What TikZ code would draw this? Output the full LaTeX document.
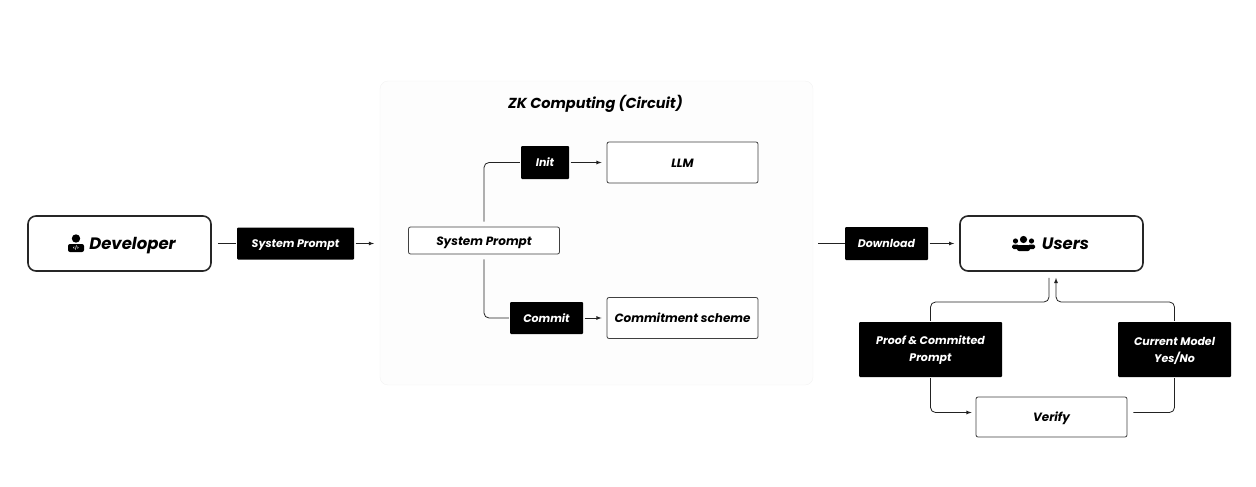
\documentclass[tikz,border=0pt]{standalone}
\usepackage{fontspec}
\setmainfont{Poppins}
\usetikzlibrary{calc}
\usetikzlibrary{arrows}
\definecolor{panelfill}{HTML}{FDFDFD}
\definecolor{panelline}{HTML}{F3F3F3}
\definecolor{wire}{HTML}{222222}
\newcommand{\twolbl}[2]{\rule{0pt}{10.5pt}#1\\#2\rule[-2.5pt]{0pt}{2.5pt}}
\begin{document}
\begin{tikzpicture}[x=1pt, y=-1pt, >=latex,
  actor/.style={draw=black!85, line width=1.6pt, rounded corners=8pt, fill=white, minimum width=183pt, minimum height=55pt, text height=13pt, text depth=2pt, font=\fontsize{16.5}{20}\selectfont\bfseries\itshape},
  lbl/.style={fill=black, text=white, rounded corners=1pt, align=center, font=\fontsize{11}{17}\selectfont\bfseries\itshape, inner sep=0pt},
  oneline/.style={text height=10.5pt, text depth=2.5pt},
  stage/.style={draw=black!75, line width=0.8pt, rounded corners=2pt, fill=white, minimum width=151pt, text height=11pt, text depth=2pt, font=\fontsize{12}{14}\selectfont\bfseries\itshape, inner sep=0pt},
  wirepath/.style={draw=wire, line width=0.8pt, rounded corners=5pt}]
\useasboundingbox (0,0) rectangle (1256,487);
% panel
\path[fill=panelfill, draw=panelline, rounded corners=8pt] (380,81) rectangle (813,385);
\path (595.5,103) node[text height=12pt, text depth=2pt, font=\fontsize{14.5}{17}\selectfont\bfseries\itshape] (zktitle) {ZK Computing (Circuit)};
% outer row
\path (119.5,243.5) node[actor] (developer) {\hspace*{26pt}Developer};
\path (295.5,243.5) node[lbl, oneline, minimum width=117pt, minimum height=32pt] (sendprompt) {System Prompt};
\coordinate (panelin) at (374,243.5);
\coordinate (panelout) at (817,243.5);
\path (886.5,243.5) node[lbl, oneline, minimum width=83pt, minimum height=33pt] (download) {Download};
\path (1051.5,243.5) node[actor] (users) {\hspace*{28pt}Users};
% circuit
\path (484,240.5) node[stage, minimum height=27pt] (sysprompt) {System Prompt};
\path (545,162.5) node[lbl, oneline, minimum width=48pt, minimum height=33pt] (init) {Init};
\path (546.5,318) node[lbl, oneline, minimum width=73pt, minimum height=32pt] (commit) {Commit};
\path (682.5,162.5) node[stage, minimum height=41pt] (llm) {LLM};
\path (682.5,318) node[stage, minimum height=41pt] (scheme) {Commitment scheme};
% verify loop
\path (930.5,349.5) node[lbl, minimum width=143pt, minimum height=55pt] (proof) {\twolbl{Proof \& Committed}{Prompt}};
\path (1174.5,349.5) node[lbl, minimum width=113pt, minimum height=55pt] (current) {\twolbl{Current Model}{Yes/No}};
\path (1051.5,417) node[stage, minimum height=40pt] (verify) {Verify};
\coordinate (joinl) at (1049,302);
\coordinate (joinr) at (1056,302);
% icons
\fill (76,238.5) circle (4.2);
\fill[rounded corners=2pt] (68,252) -- (68,244) -- (84,244) -- (84,252) -- cycle;
\path (76,248) node[text=white, font=\fontsize{4}{4}\selectfont\bfseries, inner sep=0pt] (devmark) {</>};
\fill (1023.5,239.5) circle (3.6);
\fill (1015.5,241) circle (2.6);
\fill (1031.5,241) circle (2.6);
\fill[rounded corners=1.5pt] (1012,249) -- (1012,244.5) -- (1019,244.5) -- (1019,249) -- cycle;
\fill[rounded corners=1.5pt] (1028,249) -- (1028,244.5) -- (1035,244.5) -- (1035,249) -- cycle;
\fill[rounded corners=2pt] (1017,251) -- (1017,245) -- (1030,245) -- (1030,251) -- cycle;
% connectors
\draw[wirepath, shorten <=6pt, shorten >=1pt] (developer.east) -- (sendprompt.west);
\draw[wirepath, ->, shorten <=1.5pt] (sendprompt.east) -- (panelin);
\draw[wirepath, shorten <=1pt] (panelout) -- (download.west);
\draw[wirepath, ->, shorten <=1.5pt, shorten >=5pt] (download.east) -- (users.west);
\draw[wirepath, shorten <=5pt, shorten >=1pt] (sysprompt.north) |- (init.west);
\draw[wirepath, shorten <=5pt, shorten >=1pt] (sysprompt.south) |- (commit.west);
\draw[wirepath, ->, shorten <=1.5pt, shorten >=5pt] (init.east) -- (llm.west);
\draw[wirepath, ->, shorten <=1.5pt, shorten >=5pt] (commit.east) -- (scheme.west);
\draw[wirepath, shorten <=1pt, shorten >=6pt] (proof.north) |- (joinl) -- (joinl |- users.south);
\draw[wirepath, ->, shorten <=1pt, shorten >=6pt] (current.north) |- (joinr) -- (joinr |- users.south);
\draw[wirepath, ->, shorten <=1pt, shorten >=4pt] (proof.south) |- ([yshift=4.5pt]verify.west);
\draw[wirepath, shorten <=6pt, shorten >=1pt] ([yshift=4.5pt]verify.east) -| (current.south);
\end{tikzpicture}
\end{document}
